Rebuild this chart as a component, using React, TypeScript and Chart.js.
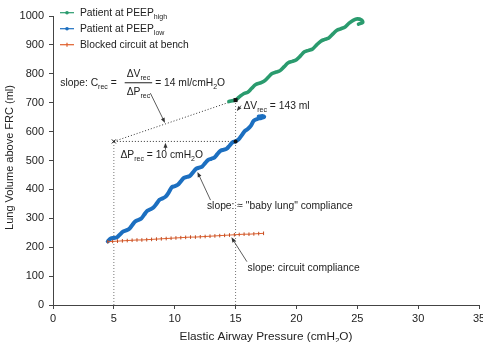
import React, { useEffect, useRef } from "react";
import { Chart, registerables } from "chart.js";

Chart.register(...registerables);

const FONT = '"Liberation Sans", Arial, Helvetica, sans-serif';
const GREEN = "#2a9b6e";
const BLUE = "#1c6fc0";
const ORANGE = "#e0602c";
const INK = "#222";

// Axis ranges and tick spacing
const pressureRange = [0, 35];
const pressureStep = 5;
const volumeRange = [0, 1000];
const volumeStep = 100;

// Patient at PEEP high (pressure cmH2O, volume ml)
const highPressure = [
  14.45, 15.0, 15.33, 15.66, 16.0, 16.33, 16.66, 17.0, 17.33, 17.66, 18.0, 18.33, 18.66,
  19.0, 19.33, 19.66, 20.0, 20.33, 20.66, 21.0, 21.33, 21.66, 22.0, 22.33, 22.66, 23.0,
  23.33, 23.66, 24.0, 24.33, 24.66, 25.0, 25.35, 25.45, 25.1,
];
const highVolume = [
  704, 710, 721, 731, 736, 750, 763, 768, 774, 787, 801, 806, 811,
  825, 838, 843, 849, 862, 876, 881, 886, 900, 913, 919, 924, 938,
  951, 956, 962, 975, 985, 990, 986, 978, 972,
];

// Patient at PEEP low
const lowPressure = [
  4.5, 4.75, 5.0, 5.25, 5.5, 5.75, 6.0, 6.25, 6.5, 6.75, 7.0, 7.25, 7.5, 7.75, 8.0, 8.25,
  8.5, 8.75, 9.0, 9.25, 9.5, 9.75, 10.0, 10.25, 10.5, 10.75, 11.0, 11.25, 11.5, 11.75,
  12.0, 12.25, 12.5, 12.75, 13.0, 13.25, 13.5, 13.75, 14.0, 14.25, 14.5, 14.75, 15.0,
  15.25, 15.5, 15.75, 16.0, 16.25, 16.5, 16.8, 17.1, 17.35, 17.2, 16.9,
];
const lowVolume = [
  220, 230, 232, 234, 244, 254, 258, 263, 276, 289, 294, 299, 313, 326, 331, 337,
  350, 364, 369, 375, 389, 407, 411, 416, 428, 440, 443, 447, 459, 471,
  475, 479, 491, 502, 506, 510, 522, 533, 537, 540, 551, 563, 566,
  573, 587, 602, 609, 620, 638, 644, 647, 651, 654, 652,
];

// Blocked circuit at bench
const benchPressure = [
  4.5, 4.9, 5.3, 5.7, 6.1, 6.5, 6.9, 7.3, 7.7, 8.1, 8.5, 8.9, 9.3, 9.7, 10.1, 10.5, 10.9,
  11.3, 11.7, 12.1, 12.5, 12.9, 13.3, 13.7, 14.1, 14.5, 14.9, 15.3, 15.7, 16.1, 16.5,
  16.9, 17.3,
];
const benchVolume = [
  219, 220, 221, 222, 223, 224, 225, 225, 226, 227, 228, 229, 230, 231, 232, 233, 234,
  235, 235, 236, 237, 238, 239, 240, 241, 242, 243, 244, 245, 245, 246, 247, 248,
];

// Recruitment construction: pressures and volumes of the two end-inspiratory points
const recPressure = [5, 15];
const recVolumeLow = 566;
const recVolumeHigh = 709;
const deltaV = recVolumeHigh - recVolumeLow; // 143 ml
const deltaP = recPressure[1] - recPressure[0]; // 10 cmH2O
const recCompliance = Math.round(deltaV / deltaP); // 14 ml/cmH2O

const legendItems: { label: string; sub: string; color: string; marker: string }[] = [
  { label: "Patient at PEEP", sub: "high", color: GREEN, marker: "circle" },
  { label: "Patient at PEEP", sub: "low", color: BLUE, marker: "circle" },
  { label: "Blocked circuit at bench", sub: "", color: ORANGE, marker: "cross" },
];

type Part = [string, boolean?];

function setFont(ctx: CanvasRenderingContext2D, size: number, sub?: boolean) {
  ctx.font = `${sub ? size * 0.68 : size}px ${FONT}`;
}

function richWidth(ctx: CanvasRenderingContext2D, parts: Part[], size: number) {
  let w = 0;
  for (const [t, sub] of parts) {
    setFont(ctx, size, sub);
    w += ctx.measureText(t).width;
  }
  return w;
}

function drawRich(ctx: CanvasRenderingContext2D, x: number, y: number, parts: Part[], size: number) {
  let cx = x;
  ctx.textAlign = "left";
  ctx.textBaseline = "middle";
  for (const [t, sub] of parts) {
    setFont(ctx, size, sub);
    ctx.fillText(t, cx, sub ? y + size * 0.38 : y);
    cx += ctx.measureText(t).width;
  }
  return cx;
}

function arrow(ctx: CanvasRenderingContext2D, x0: number, y0: number, x1: number, y1: number) {
  const a = Math.atan2(y1 - y0, x1 - x0);
  const len = 5;
  const hw = 2;
  ctx.beginPath();
  ctx.moveTo(x0, y0);
  ctx.lineTo(x1 - Math.cos(a) * len * 0.8, y1 - Math.sin(a) * len * 0.8);
  ctx.stroke();
  ctx.beginPath();
  ctx.moveTo(x1, y1);
  ctx.lineTo(x1 - Math.cos(a) * len - Math.sin(a) * hw, y1 - Math.sin(a) * len + Math.cos(a) * hw);
  ctx.lineTo(x1 - Math.cos(a) * len + Math.sin(a) * hw, y1 - Math.sin(a) * len - Math.cos(a) * hw);
  ctx.closePath();
  ctx.fill();
}

function dotted(ctx: CanvasRenderingContext2D, x0: number, y0: number, x1: number, y1: number) {
  ctx.beginPath();
  ctx.moveTo(x0, y0);
  ctx.lineTo(x1, y1);
  ctx.stroke();
}

const overlay = {
  id: "overlay",
  beforeDatasetsDraw(chart: any) {
    const { ctx, scales } = chart;
    const X = (v: number) => scales.x.getPixelForValue(v);
    const Y = (v: number) => scales.y.getPixelForValue(v);
    ctx.save();
    ctx.lineWidth = 1;
    ctx.setLineDash([1, 2]);
    ctx.strokeStyle = "#777";
    dotted(ctx, X(recPressure[0]), Y(0), X(recPressure[0]), Y(recVolumeLow));
    dotted(ctx, X(recPressure[1]), Y(0), X(recPressure[1]), Y(recVolumeHigh));
    ctx.strokeStyle = "#333";
    dotted(ctx, X(recPressure[0]), Y(recVolumeLow), X(recPressure[1]), Y(recVolumeLow));
    dotted(ctx, X(recPressure[0]), Y(recVolumeLow), X(recPressure[1]), Y(recVolumeHigh));
    ctx.restore();
  },
  afterDatasetsDraw(chart: any) {
    const { ctx, scales } = chart;
    const X = (v: number) => scales.x.getPixelForValue(v);
    const Y = (v: number) => scales.y.getPixelForValue(v);
    const fs = 10.3;
    ctx.save();
    ctx.fillStyle = "#111";
    ctx.strokeStyle = "#111";
    // points of the construction
    ctx.fillRect(X(recPressure[1]) - 2, Y(recVolumeHigh) - 2, 4, 4);
    ctx.beginPath();
    ctx.arc(X(recPressure[1]), Y(recVolumeLow), 2, 0, Math.PI * 2);
    ctx.fill();
    ctx.lineWidth = 1;
    const cx = X(recPressure[0]);
    const cy = Y(recVolumeLow);
    dotted(ctx, cx - 2, cy - 2, cx + 2, cy + 2);
    dotted(ctx, cx - 2, cy + 2, cx + 2, cy - 2);

    // arrows
    ctx.lineWidth = 0.8;
    ctx.strokeStyle = "#333";
    ctx.fillStyle = "#333";
    arrow(ctx, X(8.0), Y(733), X(9.2), Y(630));
    arrow(ctx, X(9.24), Y(537), X(9.24), Y(561));
    arrow(ctx, X(15.45), Y(690), X(15.1), Y(671));
    arrow(ctx, X(12.94), Y(363), X(11.87), Y(460));
    arrow(ctx, X(15.93), Y(150), X(14.66), Y(234));

    // labels
    ctx.fillStyle = INK;
    const fx = X(0.6);
    const fy = Y(769);
    const end = drawRich(ctx, fx, fy, [["slope: C"], ["rec", true], [" ="]], fs);
    const num: Part[] = [["\u0394V"], ["rec", true]];
    const den: Part[] = [["\u0394P"], ["rec", true]];
    const barL = end + 8;
    const barW = Math.max(richWidth(ctx, num, fs), richWidth(ctx, den, fs)) + 4;
    const mid = barL + barW / 2;
    drawRich(ctx, mid - richWidth(ctx, num, fs) / 2, fy - 8.5, num, fs);
    drawRich(ctx, mid - richWidth(ctx, den, fs) / 2, fy + 9, den, fs);
    ctx.fillRect(barL, fy - 0.5, barW, 1);
    drawRich(ctx, barL + barW + 3, fy, [[`= ${recCompliance} ml/cmH`], ["2", true], ["O"]], fs);

    drawRich(ctx, X(5.54), Y(519), [["\u0394P"], ["rec", true], [` = ${deltaP} cmH`], ["2", true], ["O"]], fs);
    drawRich(ctx, X(15.65), Y(689), [["\u0394V"], ["rec", true], [` = ${deltaV} ml`]], fs);
    drawRich(ctx, X(12.65), Y(341), [["slope: \u2248 \"baby lung\" compliance"]], fs);
    drawRich(ctx, X(15.98), Y(128), [["slope: circuit compliance"]], fs);
    ctx.restore();
  },
  afterDraw(chart: any) {
    const { ctx, chartArea } = chart;
    const fs = 10.3;
    ctx.save();
    // legend
    legendItems.forEach((item, i) => {
      const y = 12.7 + i * 16;
      ctx.strokeStyle = item.color;
      ctx.fillStyle = item.color;
      ctx.lineWidth = 1.2;
      ctx.beginPath();
      ctx.moveTo(60, y);
      ctx.lineTo(74, y);
      ctx.stroke();
      if (item.marker === "circle") {
        ctx.beginPath();
        ctx.arc(67, y, 1.8, 0, Math.PI * 2);
        ctx.fill();
      } else {
        ctx.beginPath();
        ctx.moveTo(67, y - 2);
        ctx.lineTo(67, y + 2);
        ctx.stroke();
      }
      ctx.fillStyle = INK;
      const parts: Part[] = [[item.label]];
      if (item.sub) parts.push([item.sub, true]);
      drawRich(ctx, 80, y, parts, fs);
    });
    // axis titles
    ctx.fillStyle = INK;
    const xt: Part[] = [["Elastic Airway Pressure (cmH"], ["2", true], ["O)"]];
    const xs = 11.8;
    const w = richWidth(ctx, xt, xs);
    drawRich(ctx, (chartArea.left + chartArea.right) / 2 - w / 2, 336.5, xt, xs);
    ctx.translate(10, (chartArea.top + chartArea.bottom) / 2 - 3);
    ctx.rotate(-Math.PI / 2);
    ctx.font = `11px ${FONT}`;
    ctx.textAlign = "center";
    ctx.textBaseline = "middle";
    ctx.fillText("Lung Volume above FRC (ml)", 0, 0);
    ctx.restore();
  },
};

const toPoints = (xs: number[], ys: number[]) => xs.map((x, i) => ({ x, y: ys[i] }));

export default function App() {
  const ref = useRef<HTMLCanvasElement>(null);

  useEffect(() => {
    const canvas = ref.current;
    if (!canvas) return;
    const chart = new Chart(canvas, {
      type: "scatter",
      data: {
        datasets: [
          {
            label: "Blocked circuit at bench",
            data: toPoints(benchPressure, benchVolume),
            showLine: true,
            borderColor: ORANGE,
            borderWidth: 1,
            pointStyle: "line",
            rotation: 90,
            pointRadius: 1.8,
            pointBorderColor: "#c04a20",
            pointBorderWidth: 1,
            tension: 0,
          },
          {
            label: "Patient at PEEP low",
            data: toPoints(lowPressure, lowVolume),
            showLine: true,
            borderColor: BLUE,
            borderWidth: 4,
            pointRadius: 0,
            tension: 0.3,
            borderCapStyle: "round",
            borderJoinStyle: "round",
          },
          {
            label: "Patient at PEEP high",
            data: toPoints(highPressure, highVolume),
            showLine: true,
            borderColor: GREEN,
            borderWidth: 3.6,
            pointRadius: 0,
            tension: 0.3,
            borderCapStyle: "round",
            borderJoinStyle: "round",
          },
        ],
      },
      options: {
        responsive: false,
        animation: false,
        devicePixelRatio: 1,
        layout: { padding: { top: 16, right: 21, bottom: 0, left: 0 } },
        plugins: { legend: { display: false }, tooltip: { enabled: false } },
        scales: {
          x: {
            type: "linear",
            min: pressureRange[0],
            max: pressureRange[1],
            ticks: { stepSize: pressureStep, color: INK, font: { family: FONT, size: 11 }, padding: 3, maxRotation: 0 },
            grid: { display: true, drawOnChartArea: false, drawTicks: true, tickLength: 4, color: "#444" },
            border: { display: true, color: "#444", width: 1 },
            afterFit: (s: any) => {
              s.height = 37;
            },
          },
          y: {
            type: "linear",
            min: volumeRange[0],
            max: volumeRange[1],
            ticks: {
              stepSize: volumeStep,
              color: INK,
              font: { family: FONT, size: 11 },
              padding: 5,
              callback: (v: any) => String(v),
            },
            grid: { display: true, drawOnChartArea: false, drawTicks: true, tickLength: 4, color: "#444" },
            border: { display: true, color: "#444", width: 1 },
            afterFit: (s: any) => {
              s.width = 53;
            },
          },
        },
      },
      plugins: [overlay],
    } as any);
    return () => chart.destroy();
  }, []);

  return (
    <div
      style={{
        position: "fixed",
        left: 0,
        top: 0,
        width: 483,
        height: 342,
        overflow: "hidden",
        background: "#fff",
      }}
    >
      <canvas ref={ref} width={500} height={342} style={{ display: "block", width: 500, height: 342 }} />
    </div>
  );
}
